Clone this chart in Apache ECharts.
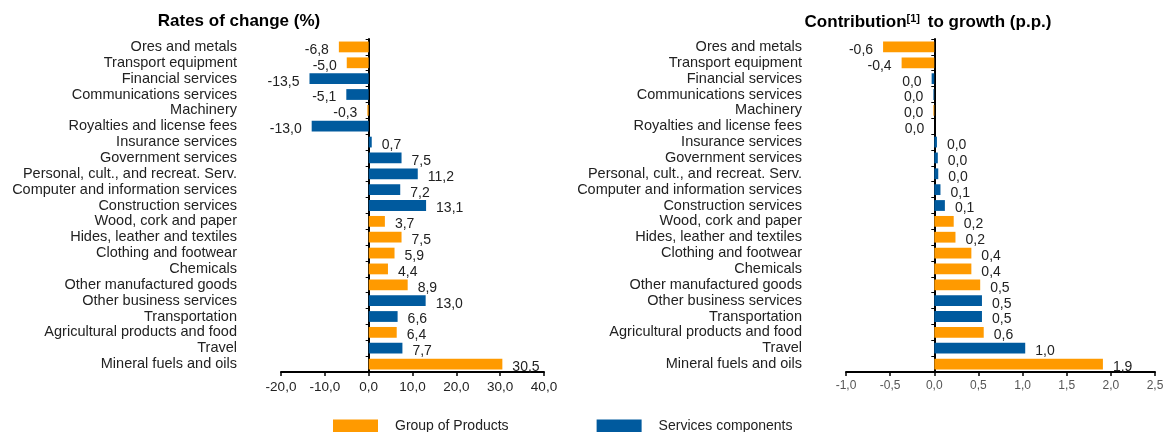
<!DOCTYPE html>
<html>
<head>
<meta charset="utf-8">
<script src="https://cdn.jsdelivr.net/npm/echarts@6/dist/echarts.min.js"></script>
<style>
html,body{margin:0;padding:0;background:#fff;}
#c{width:1170px;height:432px;}
</style>
</head>
<body>
<div id="c"></div>
<script>
const categories = [
  'Ores and metals', 'Transport equipment', 'Financial services', 'Communications services',
  'Machinery', 'Royalties and license fees', 'Insurance services', 'Government services',
  'Personal, cult., and recreat. Serv.', 'Computer and information services', 'Construction services',
  'Wood, cork and paper', 'Hides, leather and textiles', 'Clothing and footwear', 'Chemicals',
  'Other manufactured goods', 'Other business services', 'Transportation',
  'Agricultural products and food', 'Travel', 'Mineral fuels and oils'
];
// P = Group of Products, S = Services components
const groupType = ['P','P','S','S','P','S','S','S','S','S','S','P','P','P','P','P','S','S','P','S','P'];
const ratesOfChange = [-6.8, -5.0, -13.5, -5.1, -0.3, -13.0, 0.7, 7.5, 11.2, 7.2, 13.1, 3.7, 7.5, 5.9, 4.4, 8.9, 13.0, 6.6, 6.4, 7.7, 30.5];
const contribution = [-0.58, -0.37, -0.03, -0.01, -0.01, 0, 0.03, 0.04, 0.045, 0.07, 0.12, 0.22, 0.24, 0.42, 0.42, 0.52, 0.54, 0.54, 0.56, 1.03, 1.91];
const seriesNames = ['Group of Products', 'Services components'];
const leftTicks = {min: -20, max: 40, interval: 10};
const rightTicks = {min: -1, max: 2.5, interval: 0.5};

const ORANGE = '#FF9A00', BLUE = '#005A9E';
const FONT = 'Liberation Sans, Arial, sans-serif';

function fmt(v) {
  if (Math.abs(v) < 0.05) return '0,0';
  return v.toFixed(1).replace('.', ',');
}
function seriesData(values, type, dist) {
  return values.map((v, i) => {
    if (groupType[i] !== type) return null;
    return {
      value: v,
      label: {position: v <= 0 ? 'left' : 'right', distance: dist}
    };
  });
}
function makeSeries(values, xIdx, dist) {
  const lbl = {show: true, formatter: p => fmt(p.value), fontFamily: FONT, fontSize: 14, color: '#222', offset: [0, 3]};
  return [
    {name: seriesNames[0], type: 'bar', xAxisIndex: xIdx, yAxisIndex: xIdx,
     data: seriesData(values, 'P', dist), itemStyle: {color: ORANGE},
     barCategoryGap: '32%', barGap: '-100%', animation: false, label: lbl},
    {name: seriesNames[1], type: 'bar', xAxisIndex: xIdx, yAxisIndex: xIdx,
     data: seriesData(values, 'S', dist), itemStyle: {color: BLUE},
     barCategoryGap: '32%', barGap: '-100%', animation: false, label: lbl}
  ];
}
function xAxis(idx, ticks, labelColor, labelSize) {
  return {
    type: 'value', gridIndex: idx, min: ticks.min, max: ticks.max, interval: ticks.interval,
    splitLine: {show: false},
    axisLine: {show: true, onZero: false, lineStyle: {color: '#000', width: 2}},
    axisTick: {show: true, length: 4, lineStyle: {color: '#000', width: 1.5}},
    axisLabel: {fontFamily: FONT, fontSize: labelSize, color: labelColor, margin: 8,
      formatter: v => v.toFixed(1).replace('.', ',')}
  };
}
function yAxis(idx) {
  return {
    type: 'category', gridIndex: idx, data: categories, inverse: true,
    axisLine: {show: true, onZero: true, lineStyle: {color: '#000', width: 2}},
    axisTick: {show: true, length: 3, lineStyle: {color: '#000'}},
    axisLabel: {fontFamily: FONT, fontSize: 14.5, color: '#222', margin: 44, interval: 0}
  };
}

const chart = echarts.init(document.getElementById('c'), null, {renderer: 'canvas'});
chart.setOption({
  animation: false,
  title: [
    {text: 'Rates of change (%)', left: 234, top: 8, textAlign: 'center',
     textStyle: {fontFamily: FONT, fontSize: 17, fontWeight: 'bold', color: '#000'}},
    {text: 'Contribution{sup|[1]} to growth (p.p.)', left: 923, top: 8, textAlign: 'center',
     textStyle: {fontFamily: FONT, fontSize: 17, fontWeight: 'bold', color: '#000',
       rich: {sup: {fontFamily: FONT, fontSize: 11, fontWeight: 'bold', color: '#000', verticalAlign: 'top', padding: [0, 3, 7, 0]}}}}
  ],
  legend: {
    left: 328, top: 414, itemWidth: 45, itemHeight: 13, itemGap: 88,
    icon: 'rect',
    data: seriesNames,
    selectedMode: false,
    textStyle: {fontFamily: FONT, fontSize: 14, color: '#222', padding: [0, 0, 0, 12]}
  },
  grid: [
    {left: 281, width: 263, top: 39, height: 333, outerBoundsMode: 'none', containLabel: false},
    {left: 846, width: 309, top: 39, height: 333, outerBoundsMode: 'none', containLabel: false}
  ],
  xAxis: [xAxis(0, leftTicks, '#222', 13.5), xAxis(1, rightTicks, '#555', 12)],
  yAxis: [yAxis(0), yAxis(1)],
  series: [...makeSeries(ratesOfChange, 0, 10), ...makeSeries(contribution, 1, 10)]
});
</script>
</body>
</html>
